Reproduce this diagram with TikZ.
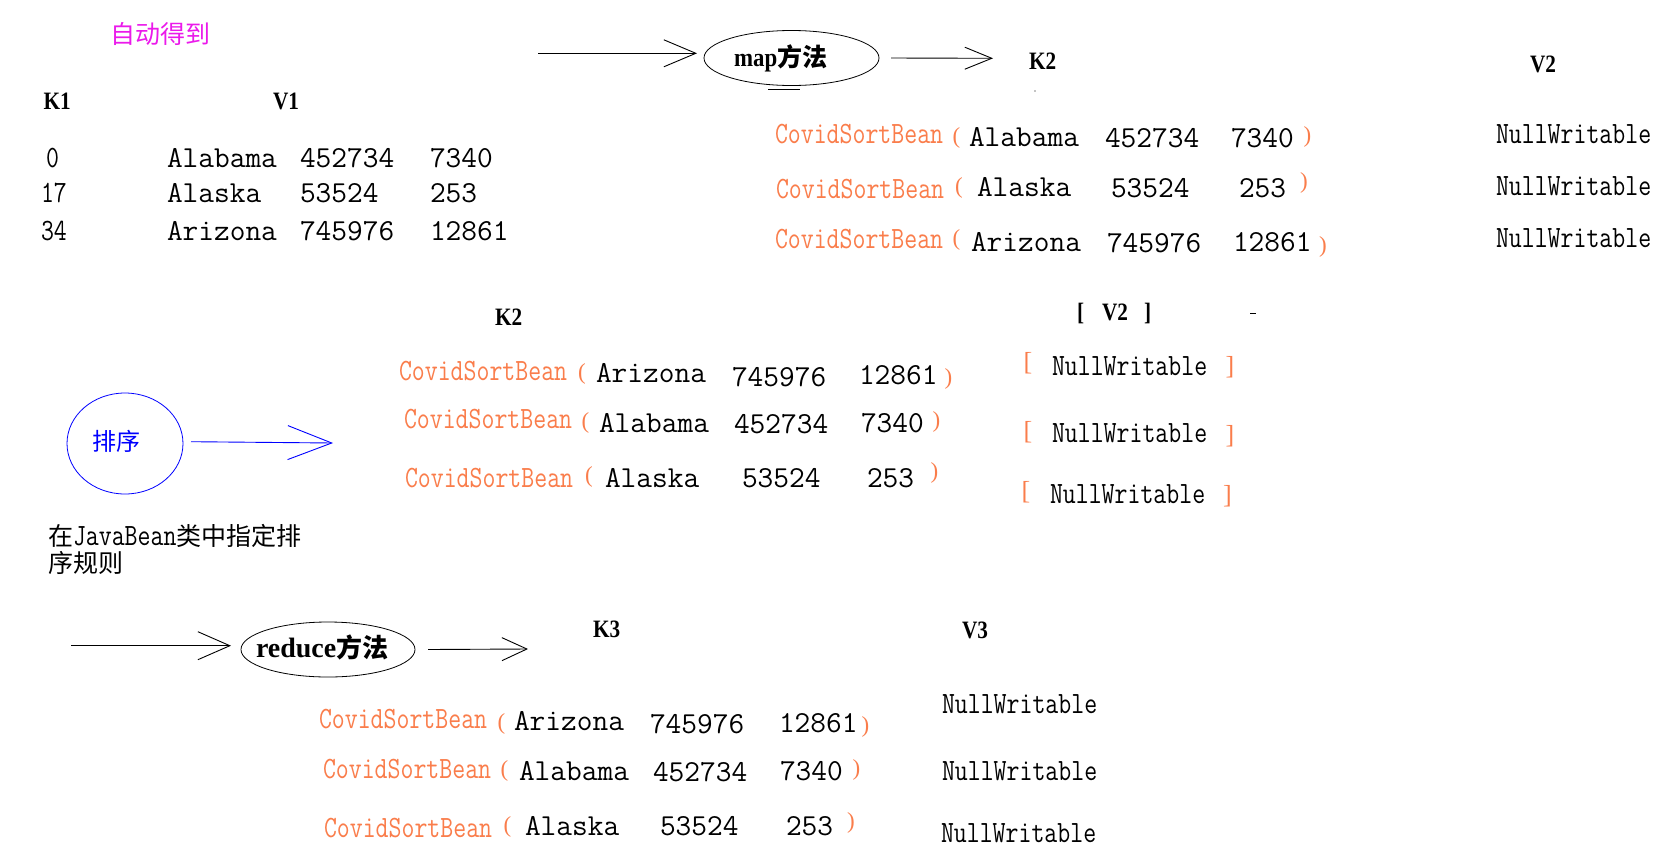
\documentclass[tikz,border=0pt]{standalone}
\usepackage{fontspec}
\usepackage{graphicx}
\newfontfamily\cjk{Noto Sans CJK SC}
\newfontfamily\lser{Liberation Serif}
\usetikzlibrary{arrows.meta,shapes.geometric}
\definecolor{beanor}{RGB}{250,125,75}
\definecolor{magt}{RGB}{235,25,235}
\definecolor{sortblue}{RGB}{0,0,255}
\newcommand\nrw[1]{{\ttfamily\fontsize{31}{31}\selectfont\scalebox{0.81}[1]{#1}}}
\newcommand\klbl[1]{{\lser\bfseries\fontsize{25}{25}\selectfont\scalebox{0.85}[1]{#1}}}
\tikzset{
  every node/.style={inner sep=0pt, outer sep=0pt},
  dat/.style={anchor=base west, font=\ttfamily\fontsize{30.5}{30.5}\selectfont\addfontfeature{FakeBold=0.8}},
  bean/.style={anchor=base west, text=beanor},
  hdr/.style={anchor=base west},
  paren/.style={anchor=center, text=beanor, font=\lser\fontsize{23}{23}\selectfont},
  brack/.style={anchor=center, text=beanor, font=\lser\fontsize{26}{26}\selectfont},
  oval/.style={draw, ellipse, line width=0.8pt},
  flow/.style={draw, line width=0.9pt},
}
\begin{document}
\begin{tikzpicture}[x=1pt,y=-1pt]
\path[fill=white] (0,0) rectangle (1676,852);
\useasboundingbox (0,0) rectangle (1676,852);

% ---------- top: input ----------
\node[text=magt, font=\cjk\fontsize{25}{25}\selectfont] (auto) at (160,33.5) {自动得到};
\node[hdr] (k1) at (43.6,109) {\klbl{K1}};
\node[hdr] (v1) at (273,109) {\klbl{V1}};
\node[hdr] (i0) at (46,167) {\nrw{0}};
\node[hdr] (i17) at (41,202) {\nrw{17}};
\node[hdr] (i34) at (41,240) {\nrw{34}};
\node[dat] (a1) at (167,167) {Alabama};
\node[dat] (a2) at (300,167) {452734};
\node[dat] (a3) at (430,167) {7340};
\node[dat] (b1) at (167,202) {Alaska};
\node[dat] (b2) at (300,202) {53524};
\node[dat] (b3) at (430,202) {253};
\node[dat] (c1) at (167,240) {Arizona};
\node[dat] (c2) at (300,240) {745976};
\node[dat] (c3) at (430,240) {12861};

% ---------- map ----------
\coordinate (m0) at (538,53.3);
\node[oval, minimum width=175pt, minimum height=55pt] (mapE) at (791.5,58) {};
\node[anchor=west] (mapT) at (734,58) {{\lser\bfseries\fontsize{26}{26}\selectfont\scalebox{0.88}[1]{map}}{\cjk\bfseries\fontsize{25}{25}\selectfont 方法}};
\draw[flow, -{Straight Barb[length=32pt,width=27pt]}] (m0) -- ([xshift=-7pt,yshift=4.7pt]mapE.west);
\coordinate (m1) at (993,58.3);
\draw[flow, -{Straight Barb[length=27pt,width=22pt]}] ([xshift=12pt]mapE.east) -- (m1);
\draw[line width=0.8pt] (768,89) -- (800,89);
\fill (1035,91) circle (0.7pt);

\node[hdr] (k2a) at (1029,69) {\klbl{K2}};
\node[hdr] (v2a) at (1530,72) {\klbl{V2}};

\node[bean] (mb1) at (775,143) {\nrw{CovidSortBean}};
\node[paren] (mo1) at (956.5,138) {(};
\node[dat] (md1a) at (969,146) {Alabama};
\node[dat] (md1b) at (1105,147) {452734};
\node[dat] (md1c) at (1231,147) {7340};
\node[paren] (mc1) at (1307.5,137) {)};

\node[bean] (mb2) at (776,198) {\nrw{CovidSortBean}};
\node[paren] (mo2) at (959,188) {(};
\node[dat] (md2a) at (977,196) {Alaska};
\node[dat] (md2b) at (1111,197) {53524};
\node[dat] (md2c) at (1239,197) {253};
\node[paren] (mc2) at (1304,183) {)};

\node[bean] (mb3) at (775,248) {\nrw{CovidSortBean}};
\node[paren] (mo3) at (956.5,240) {(};
\node[dat] (md3a) at (971,251) {Arizona};
\node[dat] (md3b) at (1107,252) {745976};
\node[dat] (md3c) at (1233,251) {12861};
\node[paren] (mc3) at (1323,247) {)};

\node[hdr] (mn1) at (1496,143) {\nrw{NullWritable}};
\node[hdr] (mn2) at (1496,195) {\nrw{NullWritable}};
\node[hdr] (mn3) at (1496,247) {\nrw{NullWritable}};

% ---------- sort ----------
\node[hdr] (k2b) at (495,325) {\klbl{K2}};
\node[hdr] (v2b) at (1077,320) {\klbl{[}\hspace{18pt}\klbl{V2}\hspace{16pt}\klbl{]}};
\draw[line width=0.8pt] (1250,313) -- (1256,313);

\node[oval, draw=sortblue, minimum width=116pt, minimum height=101pt] (sortC) at (125,443.5) {};
\node[text=sortblue, font=\cjk\fontsize{24}{24}\selectfont] (sortT) at (116.5,441) {排序};
\coordinate (s1) at (333,443);
\draw[flow, draw=sortblue, -{Straight Barb[length=44pt,width=34pt]}] ([xshift=8pt,yshift=1.8pt]sortC.east) -- (s1);

\node[anchor=base west, font=\fontsize{25}{25}\selectfont] (desc1) at (48,545) {{\cjk 在}\nrw{JavaBean}{\cjk 类中指定排}};
\node[anchor=base west, font=\fontsize{25}{25}\selectfont] (desc2) at (48,572) {{\cjk 序规则}};

\node[bean] (sb1) at (399,380) {\nrw{CovidSortBean}};
\node[paren] (so1) at (582,374) {(};
\node[dat] (sd1a) at (596,382) {Arizona};
\node[dat] (sd1b) at (732,386) {745976};
\node[dat] (sd1c) at (859,384) {12861};
\node[paren] (sc1) at (948.5,379) {)};

\node[bean] (sb2) at (404,428) {\nrw{CovidSortBean}};
\node[paren] (so2) at (585.5,423) {(};
\node[dat] (sd2a) at (599,432) {Alabama};
\node[dat] (sd2b) at (734,433) {452734};
\node[dat] (sd2c) at (861,432) {7340};
\node[paren] (sc2) at (936.5,422) {)};

\node[bean] (sb3) at (405,487) {\nrw{CovidSortBean}};
\node[paren] (so3) at (589,477) {(};
\node[dat] (sd3a) at (605,487) {Alaska};
\node[dat] (sd3b) at (742,487) {53524};
\node[dat] (sd3c) at (867,487) {253};
\node[paren] (sc3) at (934.5,473) {)};

\node[brack] (sl1) at (1028,363.5) {[};
\node[hdr] (sn1) at (1052,375) {\nrw{NullWritable}};
\node[brack] (sr1) at (1230,367.5) {]};
\node[brack] (sl2) at (1028,432.5) {[};
\node[hdr] (sn2) at (1052,442) {\nrw{NullWritable}};
\node[brack] (sr2) at (1230,436) {]};
\node[brack] (sl3) at (1026,492.5) {[};
\node[hdr] (sn3) at (1050,503) {\nrw{NullWritable}};
\node[brack] (sr3) at (1227.5,496) {]};

% ---------- reduce ----------
\coordinate (r0) at (71,645.7);
\node[oval, minimum width=174pt, minimum height=55pt] (redE) at (328,649.5) {};
\node[anchor=west] (redT) at (256,647) {{\lser\bfseries\fontsize{28}{28}\selectfont reduce}{\cjk\bfseries\fontsize{26}{26}\selectfont 方法}};
\draw[flow, -{Straight Barb[length=32pt,width=28pt]}] (r0) -- ([xshift=-10pt,yshift=3.8pt]redE.west);
\coordinate (r1) at (528,649);
\draw[flow, -{Straight Barb[length=25pt,width=23pt]}] ([xshift=13pt]redE.east) -- (r1);

\node[hdr] (k3) at (593,637) {\klbl{K3}};
\node[hdr] (v3) at (962,638) {\klbl{V3}};

\node[bean] (rb1) at (319,728) {\nrw{CovidSortBean}};
\node[paren] (ro1) at (501.5,724) {(};
\node[dat] (rd1a) at (514,730) {Arizona};
\node[dat] (rd1b) at (650,733) {745976};
\node[dat] (rd1c) at (779,732) {12861};
\node[paren] (rc1) at (865.5,727) {)};

\node[bean] (rb2) at (323,778) {\nrw{CovidSortBean}};
\node[paren] (ro2) at (504.5,771) {(};
\node[dat] (rd2a) at (519,780) {Alabama};
\node[dat] (rd2b) at (653,781) {452734};
\node[dat] (rd2c) at (780,780) {7340};
\node[paren] (rc2) at (856.5,770) {)};

\node[bean] (rb3) at (324,837) {\nrw{CovidSortBean}};
\node[paren] (ro3) at (507.5,827) {(};
\node[dat] (rd3a) at (525,835) {Alaska};
\node[dat] (rd3b) at (660,835) {53524};
\node[dat] (rd3c) at (786,835) {253};
\node[paren] (rc3) at (851,823) {)};

\node[hdr] (rn1) at (942,713) {\nrw{NullWritable}};
\node[hdr] (rn2) at (942,780) {\nrw{NullWritable}};
\node[hdr] (rn3) at (941,842) {\nrw{NullWritable}};
\end{tikzpicture}
\end{document}
